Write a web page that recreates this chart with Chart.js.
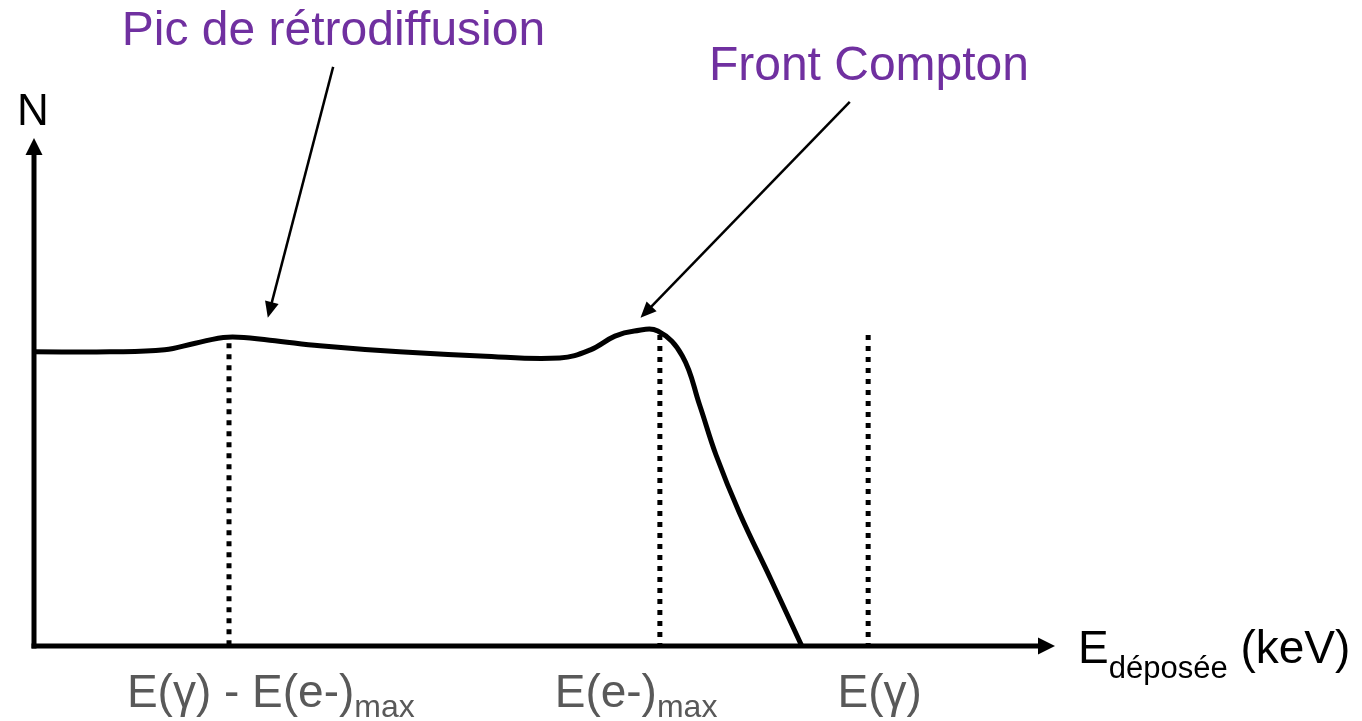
<!DOCTYPE html>
<html>
<head>
<meta charset="utf-8">
<script src="https://cdn.jsdelivr.net/npm/chart.js@4.4.1/dist/chart.umd.min.js"></script>
<style>
  html, body { margin: 0; padding: 0; background: #fff; }
  #wrap { width: 1362px; height: 721px; position: relative; }
</style>
</head>
<body>
<div id="wrap"><canvas id="grafico"></canvas></div>
<script>
// Spectre Compton schématique (unités arbitraires 0..100)
const energie = [0, 7.4, 12.8, 15.8, 19.0, 23.1, 28.0, 35.8, 43.7, 51.5, 54.5, 56.9, 58.8, 61.1, 63.5, 65.2, 66.8, 69.1, 72.2, 75.2];
const coups   = [57.9, 57.9, 58.3, 59.6, 60.8, 60.2, 59.1, 57.9, 57.1, 56.7, 58.3, 61.0, 62.0, 62.0, 57.1, 47.4, 37.6, 26.2, 13.0, 0];

// lignes pointillées verticales
const repereX   = [19.1, 61.3, 81.7];
const repereHaut = [59.6, 61.2, 61.2];

// étiquettes sous l'axe : [texte, indice, position x]
const etiquettes = [
  ['E(γ) - E(e-)', 'max', 9.1],
  ['E(e-)', 'max', 51.0],
  ['E(γ)', '', 78.7]
];

// annotations violettes et flèches (unités des axes)
const annotations = [
  ['Pic de rétrodiffusion', 8.6, 118.3],
  ['Front Compton', 66.1, 111.4]
];
const fleches = [
  [29.3, 114.0, 22.9, 64.6],
  [79.9, 107.1, 59.4, 64.6]
];

const police = "'Liberation Sans', Arial, sans-serif";

function trait(ctx, x1, y1, x2, y2) {
  ctx.beginPath(); ctx.moveTo(x1, y1); ctx.lineTo(x2, y2); ctx.stroke();
}

function pointe(ctx, x1, y1, x2, y2, long, larg) {
  const ang = Math.atan2(y2 - y1, x2 - x1);
  ctx.beginPath();
  ctx.moveTo(x2, y2);
  ctx.lineTo(x2 - long * Math.cos(ang) + larg / 2 * Math.sin(ang), y2 - long * Math.sin(ang) - larg / 2 * Math.cos(ang));
  ctx.lineTo(x2 - long * Math.cos(ang) - larg / 2 * Math.sin(ang), y2 - long * Math.sin(ang) + larg / 2 * Math.cos(ang));
  ctx.closePath();
  ctx.fill();
}

const decor = {
  id: 'decor',
  afterDatasetsDraw(chart) {
    const {ctx, chartArea: a, scales: {x, y}} = chart;
    ctx.save();
    ctx.fillStyle = '#000';
    ctx.strokeStyle = '#000';

    // axes avec flèches
    ctx.lineWidth = 5;
    ctx.lineCap = 'butt';
    trait(ctx, a.left, a.bottom + 2.5, a.left, a.top + 14);
    trait(ctx, a.left - 2.5, a.bottom, a.right - 14, a.bottom);
    pointe(ctx, a.left, a.bottom, a.left, a.top, 17, 17);
    pointe(ctx, a.left, a.bottom, a.right, a.bottom, 17, 17);

    // flèches des annotations
    ctx.lineWidth = 2.5;
    fleches.forEach(f => {
      const x1 = x.getPixelForValue(f[0]), y1 = y.getPixelForValue(f[1]);
      const x2 = x.getPixelForValue(f[2]), y2 = y.getPixelForValue(f[3]);
      const ang = Math.atan2(y2 - y1, x2 - x1);
      trait(ctx, x1, y1, x2 - 10 * Math.cos(ang), y2 - 10 * Math.sin(ang));
      pointe(ctx, x1, y1, x2, y2, 16, 14);
    });

    ctx.textBaseline = 'alphabetic';
    ctx.textAlign = 'left';

    // annotations
    ctx.fillStyle = '#7030A0';
    ctx.font = '48px ' + police;
    annotations.forEach(t => {
      ctx.fillText(t[0], x.getPixelForValue(t[1]), y.getPixelForValue(t[2]));
    });

    // titre axe y
    ctx.fillStyle = '#000';
    ctx.font = '44px ' + police;
    ctx.fillText('N', a.left - 17, a.top - 13);

    // titre axe x
    let px = a.right + 23;
    const base = a.bottom + 17;
    ctx.font = '46px ' + police;
    ctx.fillText('E', px, base);
    px += ctx.measureText('E').width;
    ctx.font = '31px ' + police;
    ctx.fillText('déposée', px, base + 15);
    px += ctx.measureText('déposée').width;
    ctx.font = '46px ' + police;
    ctx.fillText(' (keV)', px, base);

    // étiquettes sous l'axe
    ctx.fillStyle = '#595959';
    etiquettes.forEach(e => {
      let lx = x.getPixelForValue(e[2]);
      const by = a.bottom + 61;
      ctx.font = '46px ' + police;
      ctx.fillText(e[0], lx, by);
      lx += ctx.measureText(e[0]).width;
      if (e[1]) {
        ctx.font = '32px ' + police;
        ctx.fillText(e[1], lx, by + 10);
      }
    });
    ctx.restore();
  }
};

const donnees = energie.map((e, i) => ({x: e, y: coups[i]}));
const jeux = [{
  data: donnees,
  borderColor: '#000',
  borderWidth: 5,
  pointRadius: 0,
  tension: 0.4,
  fill: false
}];
repereX.forEach((rx, i) => {
  jeux.push({
    data: [{x: rx, y: repereHaut[i]}, {x: rx, y: 0}],
    borderColor: '#000',
    borderWidth: 5,
    borderDash: [5, 6],
    borderCapStyle: 'butt',
    pointRadius: 0,
    fill: false
  });
});

new Chart(document.getElementById('grafico'), {
  type: 'line',
  data: {datasets: jeux},
  options: {
    responsive: true,
    maintainAspectRatio: false,
    animation: false,
    layout: {padding: {left: 34, right: 307, top: 138, bottom: 75}},
    scales: {
      x: {type: 'linear', min: 0, max: 100, display: false},
      y: {type: 'linear', min: 0, max: 100, display: false}
    },
    plugins: {legend: {display: false}, tooltip: {enabled: false}}
  },
  plugins: [decor]
});
</script>
</body>
</html>
